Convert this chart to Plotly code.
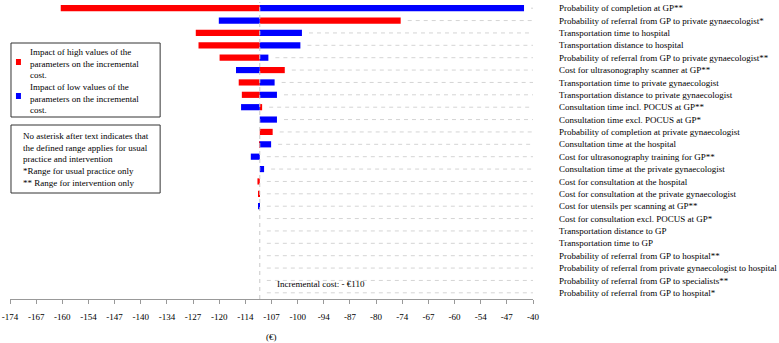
import numpy as np
import plotly.graph_objects as go

categories = [
    "Probability of completion at GP**",
    "Probability of referral from GP to private gynaecologist*",
    "Transportation time to hospital",
    "Transportation distance to hospital",
    "Probability of referral from GP to private gynaecologist**",
    "Cost for ultrasonography scanner at GP**",
    "Transportation time to private gynaecologist",
    "Transportation distance to private gynaecologist",
    "Consultation time incl. POCUS at GP**",
    "Consultation time excl. POCUS at GP*",
    "Probability of completion at private gynaecologist",
    "Consultation time at the hospital",
    "Cost for ultrasonography training for GP**",
    "Consultation time at the private gynaecologist",
    "Cost for consultation at the hospital",
    "Cost for consultation at the private gynaecologist",
    "Cost for utensils per scanning at GP**",
    "Cost for consultation excl. POCUS at GP*",
    "Transportation distance to GP",
    "Transportation time to GP",
    "Probability of referral from GP to hospital**",
    "Probability of referral from private gynaecologist to hospital",
    "Probability of referral from GP to specialists**",
    "Probability of referral from GP to hospital*",
]
base_cost = -110

# incremental cost at high parameter values (red)
high_values = [-161.0, -73.9, -126.4, -125.7, -120.3, -103.6, -115.4, -114.6,
               -109.4, -110.0, -106.7, -110.2, -110.0, -110.0, -110.6, -110.3,
               -110.0, -110.0, -110.0, -110.0, -110.0, -110.0, -110.0, -110.0]
# incremental cost at low parameter values (blue)
low_values = [-42.3, -120.5, -99.2, -99.6, -107.8, -116.1, -106.2, -105.6,
              -114.8, -105.6, -110.0, -107.1, -112.3, -108.9, -110.0, -110.0,
              -110.3, -110.0, -110.0, -110.0, -110.0, -110.0, -110.0, -110.0]

x_min, x_max = -174, -40
tick_labels = ["-174", "-167", "-160", "-154", "-147", "-140", "-134", "-127",
               "-120", "-114", "-107", "-100", "-94", "-87", "-80", "-74",
               "-67", "-60", "-54", "-47", "-40"]
tick_vals = np.linspace(x_min, x_max, len(tick_labels))

W, H = 779, 343
L, R, T, B = 7, 246, 2, 44
PW, PH = W - L - R, H - T - B

def px(xp):
    return (xp - L) / PW

def py(yp):
    return 1 - (yp - T) / PH

FONT = "Liberation Serif"
RED = "#ff0000"
BLUE = "#0000ff"

fig = go.Figure()

# dashed guide lines per row
gx, gy = [], []
for c, h, l in zip(categories, high_values, low_values):
    start = max(h, l, base_cost) + 1.8
    if start < x_max:
        gx += [start, x_max, None]
        gy += [c, c, None]
fig.add_trace(go.Scatter(x=gx, y=gy, mode="lines",
                         line=dict(color="#d4d4d4", width=1, dash="4px,4px"),
                         hoverinfo="skip", showlegend=False))

fig.add_trace(go.Bar(y=categories, x=[v - base_cost for v in high_values],
                     base=base_cost, orientation="h", marker_color=RED,
                     marker_line_width=0, width=0.5, showlegend=False))
fig.add_trace(go.Bar(y=categories, x=[v - base_cost for v in low_values],
                     base=base_cost, orientation="h", marker_color=BLUE,
                     marker_line_width=0, width=0.5, showlegend=False))

shapes = [
    dict(type="line", xref="x", yref="paper", x0=base_cost, x1=base_cost,
         y0=0, y1=1, line=dict(color="#c8c8c8", width=1, dash="4px,4px")),
    dict(type="rect", xref="paper", yref="paper", x0=px(8), x1=px(158),
         y0=py(117), y1=py(43), line=dict(color="#333333", width=1)),
    dict(type="rect", xref="paper", yref="paper", x0=px(8), x1=px(158),
         y0=py(193), y1=py(125), line=dict(color="#333333", width=1)),
    dict(type="rect", xref="paper", yref="paper", x0=px(13), x1=px(18),
         y0=py(65), y1=py(59), fillcolor=RED, line=dict(width=0)),
    dict(type="rect", xref="paper", yref="paper", x0=px(13), x1=px(18),
         y0=py(99), y1=py(93), fillcolor=BLUE, line=dict(width=0)),
]

annotations = [
    dict(xref="paper", yref="paper", x=px(25), y=py(64), xanchor="left", yanchor="middle",
         align="left", showarrow=False,
         text="Impact of high values of the<br>parameters on the incremental<br>cost."),
    dict(xref="paper", yref="paper", x=px(25), y=py(98), xanchor="left", yanchor="middle",
         align="left", showarrow=False,
         text="Impact of low values of the<br>parameters on the incremental<br>cost."),
    dict(xref="paper", yref="paper", x=px(18), y=py(159), xanchor="left", yanchor="middle",
         align="left", showarrow=False,
         text="No asterisk after text indicates that<br>the defined range applies for usual<br>"
              "practice and intervention<br>*Range for usual practice only<br>** Range for intervention only"),
    dict(xref="paper", yref="paper", x=px(274), y=py(284), xanchor="left", yanchor="middle",
         showarrow=False, text="Incremental cost: - €110"),
    dict(xref="paper", yref="paper", x=px(270), y=py(337), xanchor="center", yanchor="middle",
         showarrow=False, text="(€)"),
]

fig.update_layout(
    width=W, height=H,
    margin=dict(l=L, r=R, t=T, b=B),
    paper_bgcolor="white", plot_bgcolor="white",
    barmode="overlay",
    font=dict(family=FONT, size=9, color="black"),
    shapes=shapes, annotations=annotations,
    showlegend=False,
    xaxis=dict(range=[x_min, x_max], tickvals=tick_vals, ticktext=tick_labels,
               showgrid=False, zeroline=False, showline=True, linecolor="#999999",
               linewidth=1, ticks="outside", ticklen=4, tickcolor="#999999",
               ticklabelstandoff=5, ticklabeloverflow="allow", tickfont=dict(size=9)),
    yaxis=dict(type="category", categoryarray=categories, range=[len(categories) - 0.5, -0.5],
               side="right", showgrid=False, zeroline=False, showline=False, ticks="",
               ticklabelstandoff=25, ticklabeloverflow="allow", tickfont=dict(size=9)),
)

fig.write_html("out.html", config={"displayModeBar": False},
               post_script="document.body.style.margin='0';document.body.style.padding='0';"
                           "document.body.style.overflow='hidden';")
